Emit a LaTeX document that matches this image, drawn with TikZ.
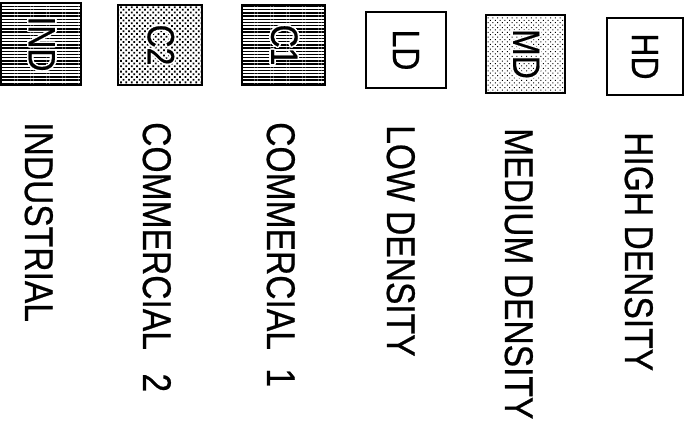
\documentclass[tikz,border=0pt]{standalone}
\usepackage{graphicx}
\usepackage{fontspec}
\usepackage{contour}
\setmainfont{Liberation Sans}
\newfontfamily\zonefont{Liberation Sans}[FakeBold=0.6]
\usetikzlibrary{patterns.meta}

\contourlength{1.6pt}
\newcommand{\narrow}[1]{\scalebox{0.84}[1]{#1}}
\newcommand{\haloed}[1]{\scalebox{0.84}[1]{\contour{white}{#1}}}

\begin{document}
\begin{tikzpicture}[
    x=1pt, y=1pt,
    zonebox/.style={rectangle, draw, line width=1.3pt, rotate=-90, inner sep=0pt, font=\zonefont\fontsize{38}{38}\selectfont},
    hlines/.style={pattern={Lines[distance=3.2pt, angle=0, line width=1.4pt]}},
    densedots/.style={pattern={Dots[distance=3.8pt, angle=45, radius=1.25pt]}},
    lightdots/.style={pattern={Dots[distance=3.4pt, angle=45, radius=0.7pt]}},
    zonetext/.style={rotate=-90, anchor=base west, inner sep=0pt, font=\zonefont\fontsize{40}{40}\selectfont}
]
    \useasboundingbox (0,0) rectangle (690,-429);

    % legend boxes
    \node[zonebox, hlines, minimum width=82pt, minimum height=80pt] (ind) at (41,-44) {\haloed{IND}};
    \node[zonebox, densedots, minimum width=80pt, minimum height=84pt] (ctwo) at (160,-45) {\haloed{C2}};
    \node[zonebox, hlines, minimum width=80pt, minimum height=83pt] (cone) at (283.5,-45) {\haloed{C1}};
    \node[zonebox, minimum width=76pt, minimum height=80pt] (ld) at (406,-50) {\narrow{LD}};
    \node[zonebox, lightdots, minimum width=78pt, minimum height=79pt] (md) at (525.5,-54) {\haloed{MD}};
    \node[zonebox, minimum width=77pt, minimum height=76pt] (hd) at (645,-56.5) {\narrow{HD}};

    % legend texts
    \node[zonetext] (indtext) at (25,-122) {\narrow{INDUSTRIAL}};
    \node[zonetext] (ctwotext) at (143,-122) {\narrow{COMMERCIAL\hspace{28pt}2}};
    \node[zonetext] (conetext) at (267,-122) {\narrow{COMMERCIAL\hspace{22pt}1}};
    \node[zonetext] (ldtext) at (387,-125) {\narrow{LOW DENSITY}};
    \node[zonetext] (mdtext) at (505,-128) {\narrow{MEDIUM DENSITY}};
    \node[zonetext] (hdtext) at (625,-132) {\narrow{HIGH DENSITY}};
\end{tikzpicture}
\end{document}
